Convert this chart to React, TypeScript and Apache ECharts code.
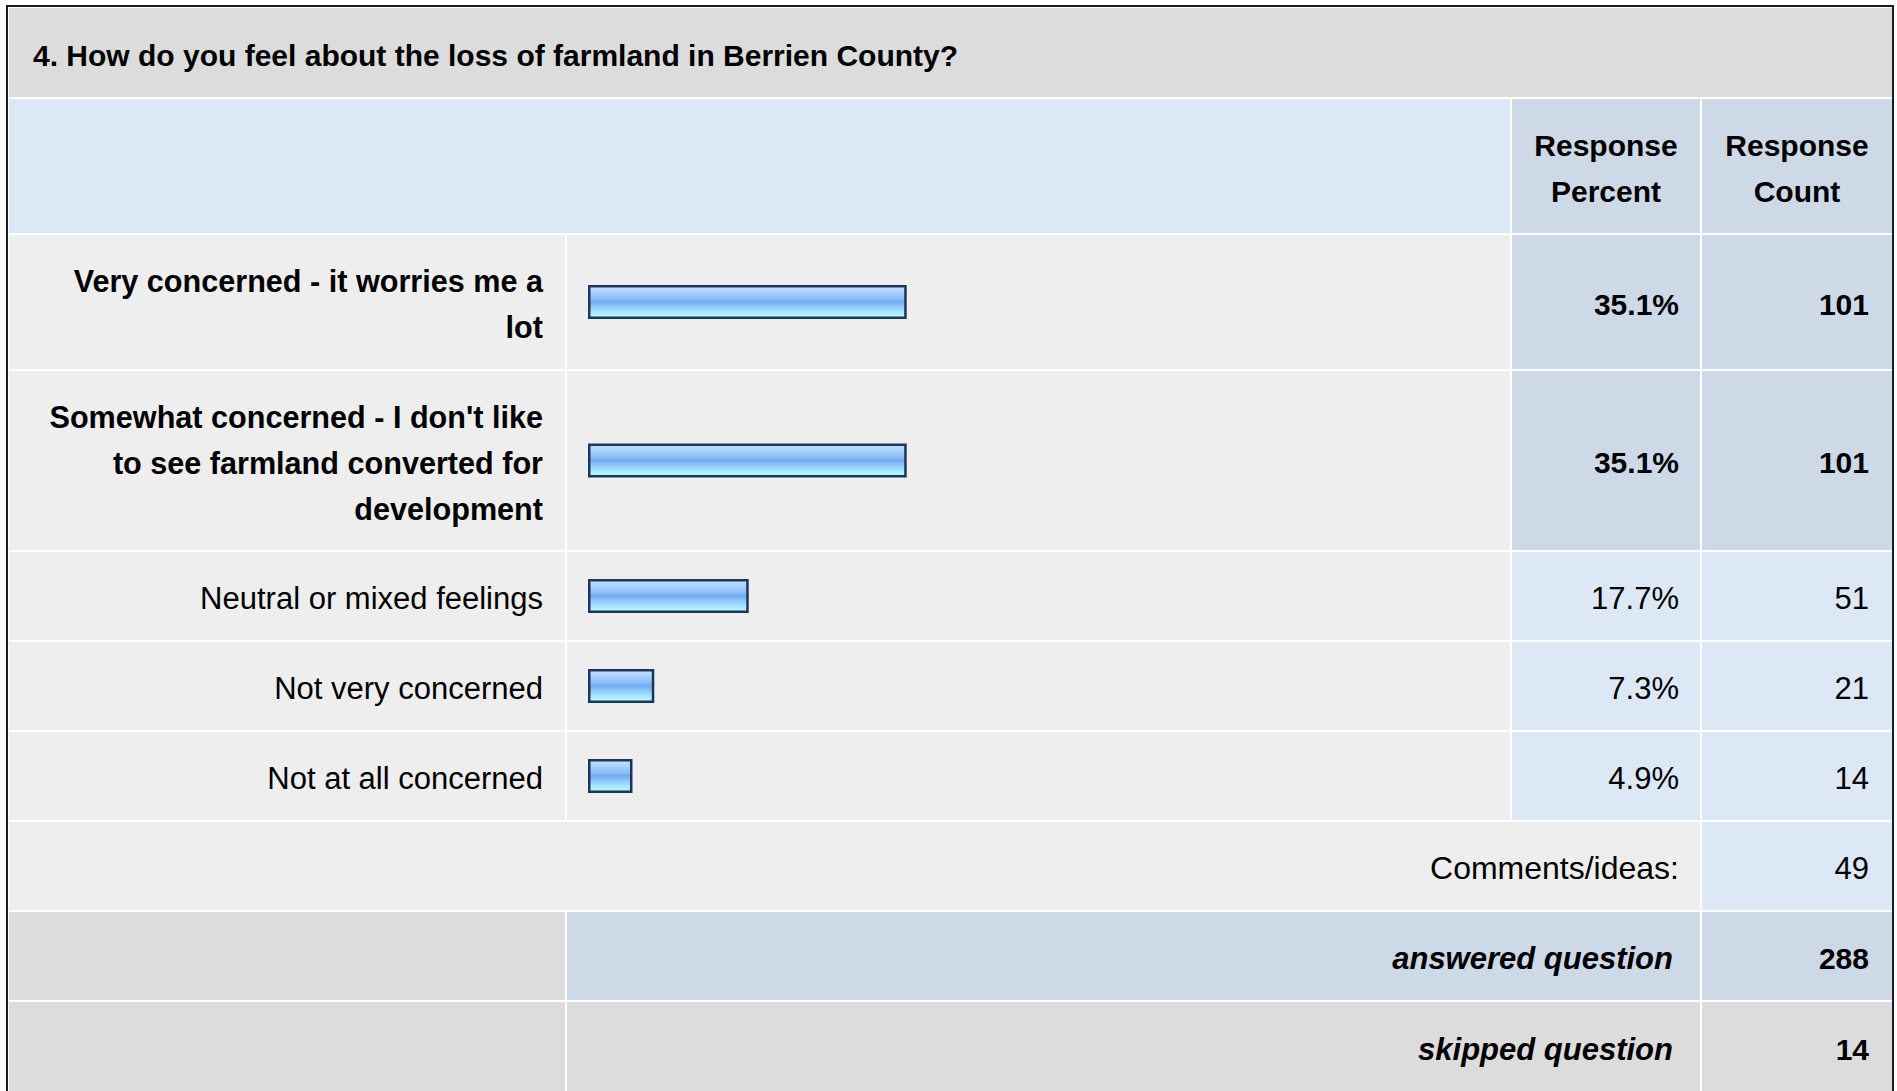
import React, { useEffect, useRef } from "react";
import * as echarts from "echarts";

// ---------- data ----------
const questionTitle = "4. How do you feel about the loss of farmland in Berrien County?";
const answerChoices = [
  "Very concerned - it worries me a lot",
  "Somewhat concerned - I don't like to see farmland converted for development",
  "Neutral or mixed feelings",
  "Not very concerned",
  "Not at all concerned",
];
const responsePercent = [35.1, 35.1, 17.7, 7.3, 4.9];
const responseCount = [101, 101, 51, 21, 14];
const headerLabels = ["Response\nPercent", "Response\nCount"];
const commentsLabel = "Comments/ideas:";
const commentsCount = 49;
const answeredLabel = "answered question";
const answeredCount = 288;
const skippedLabel = "skipped question";
const skippedCount = 14;

// ---------- layout ----------
const W = 1897;
const H = 1091;
const COL = { l0: 9, l1: 565, b0: 567, b1: 1510, p0: 1512, p1: 1700, c0: 1702, c1: 1892 };
const TITLE_ROW = [8, 97];
const HEADER_ROW = [99, 233];
const CHOICE_ROWS = [
  [235, 369],
  [371, 550],
  [552, 640],
  [642, 730],
  [732, 820],
];
const COMMENTS_ROW = [822, 910];
const ANSWERED_ROW = [912, 1000];
const SKIPPED_ROW = [1002, 1092];
const BAR_LEFT = 588;
const BAR_FULL = 908;

const C_TITLE = "#dcdcdc";
const C_HEAD = "#dce8f5";
const C_DARK = "#cdd9e6";
const C_LIGHT = "#eeeeee";
const C_GRAY = "#dcdcdc";
const FONT = '"Liberation Sans", Arial, Helvetica, sans-serif';

function rect(x0: number, x1: number, r: number[], fill: string) {
  return {
    type: "rect",
    shape: { x: x0, y: r[0], width: x1 - x0, height: r[1] - r[0] },
    style: { fill },
    silent: true,
  };
}

let measureCtx: CanvasRenderingContext2D | null = null;
function wrapText(str: string, font: string, maxWidth: number) {
  if (!measureCtx) measureCtx = document.createElement("canvas").getContext("2d");
  const ctx = measureCtx!;
  ctx.font = font;
  const words = str.split(" ");
  const lines: string[] = [];
  let cur = "";
  for (const w of words) {
    const trial = cur ? cur + " " + w : w;
    if (cur && ctx.measureText(trial).width > maxWidth) {
      lines.push(cur);
      cur = w;
    } else {
      cur = trial;
    }
  }
  if (cur) lines.push(cur);
  return lines.join("\n");
}

function text(
  str: string,
  x: number,
  y: number,
  align: string,
  opts: { bold?: boolean; italic?: boolean; size?: number; lineHeight?: number } = {}
) {
  const style: any = {
    text: str,
    fill: "#000",
    fontFamily: FONT,
    fontSize: opts.size ?? 30,
    fontWeight: opts.bold ? "bold" : "normal",
    fontStyle: opts.italic ? "italic" : "normal",
    align,
    textAlign: align,
    verticalAlign: "middle",
    textVerticalAlign: "middle",
    lineHeight: opts.lineHeight ?? 46,
  };
  return { type: "text", x, y, style, silent: true };
}

const mid = (r: number[]) => (r[0] + r[1]) / 2 + 2;

export default function App() {
  const ref = useRef<HTMLDivElement>(null);

  useEffect(() => {
    if (!ref.current) return;
    const chart = echarts.init(ref.current, undefined, { renderer: "svg", width: W, height: H });
    const maxPct = Math.max(...responsePercent);

    const graphics: any[] = [];
    graphics.push({
      type: "rect",
      shape: { x: 7, y: 6, width: 1886, height: 1100 },
      style: { fill: "#ffffff", stroke: "#1c1c1c", lineWidth: 2 },
      silent: true,
    });
    graphics.push(rect(COL.l0, COL.c1, TITLE_ROW, C_TITLE));
    graphics.push(rect(COL.l0, COL.b1, HEADER_ROW, C_HEAD));
    graphics.push(rect(COL.p0, COL.p1, HEADER_ROW, C_DARK));
    graphics.push(rect(COL.c0, COL.c1, HEADER_ROW, C_DARK));
    CHOICE_ROWS.forEach((r, i) => {
      const top = responsePercent[i] === maxPct;
      graphics.push(rect(COL.l0, COL.l1, r, C_LIGHT));
      graphics.push(rect(COL.b0, COL.b1, r, C_LIGHT));
      graphics.push(rect(COL.p0, COL.p1, r, top ? C_DARK : C_HEAD));
      graphics.push(rect(COL.c0, COL.c1, r, top ? C_DARK : C_HEAD));
    });
    graphics.push(rect(COL.l0, COL.p1, COMMENTS_ROW, C_LIGHT));
    graphics.push(rect(COL.c0, COL.c1, COMMENTS_ROW, C_HEAD));
    graphics.push(rect(COL.l0, COL.l1, ANSWERED_ROW, C_GRAY));
    graphics.push(rect(COL.b0, COL.p1, ANSWERED_ROW, C_DARK));
    graphics.push(rect(COL.c0, COL.c1, ANSWERED_ROW, C_DARK));
    graphics.push(rect(COL.l0, COL.l1, SKIPPED_ROW, C_GRAY));
    graphics.push(rect(COL.b0, COL.p1, SKIPPED_ROW, C_GRAY));
    graphics.push(rect(COL.c0, COL.c1, SKIPPED_ROW, C_GRAY));

    graphics.push(text(questionTitle, 33, 55, "left", { bold: true }));
    graphics.push(text(headerLabels[0], (COL.p0 + COL.p1) / 2, 168, "center", { bold: true }));
    graphics.push(text(headerLabels[1], (COL.c0 + COL.c1) / 2, 168, "center", { bold: true }));
    CHOICE_ROWS.forEach((r, i) => {
      const top = responsePercent[i] === maxPct;
      const labelSize = top ? 30.6 : 31;
      const font = `${top ? "bold " : ""}${labelSize}px ${FONT}`;
      graphics.push(
        text(wrapText(answerChoices[i], font, 505), 543, mid(r), "right", {
          bold: top,
          size: labelSize,
          lineHeight: 46,
        })
      );
      const valSize = top ? 30 : 31;
      graphics.push(text(responsePercent[i].toFixed(1) + "%", 1679, mid(r), "right", { bold: top, size: valSize }));
      graphics.push(text(String(responseCount[i]), 1869, mid(r), "right", { bold: top, size: valSize }));
    });
    graphics.push(text(commentsLabel, 1679, mid(COMMENTS_ROW), "right", { size: 32 }));
    graphics.push(text(String(commentsCount), 1869, mid(COMMENTS_ROW), "right", { size: 31 }));
    graphics.push(text(answeredLabel, 1673, mid(ANSWERED_ROW), "right", { bold: true, italic: true, size: 31 }));
    graphics.push(text(String(answeredCount), 1869, mid(ANSWERED_ROW), "right", { bold: true }));
    graphics.push(text(skippedLabel, 1673, mid(SKIPPED_ROW), "right", { bold: true, italic: true, size: 31 }));
    graphics.push(text(String(skippedCount), 1869, mid(SKIPPED_ROW), "right", { bold: true }));

    const barGradient = new echarts.graphic.LinearGradient(0, 0, 0, 1, [
      { offset: 0, color: "#c4e2ff" },
      { offset: 0.18, color: "#a9d3ff" },
      { offset: 0.38, color: "#8cc0f8" },
      { offset: 0.5, color: "#72aaee" },
      { offset: 0.62, color: "#8ac2f8" },
      { offset: 0.82, color: "#a8e6ff" },
      { offset: 1, color: "#b8fcff" },
    ]);

    const grids = CHOICE_ROWS.map((r) => ({
      left: BAR_LEFT,
      top: r[0],
      width: BAR_FULL,
      height: r[1] - r[0],
      containLabel: false,
      outerBoundsMode: "none",
    }));
    const xAxes = CHOICE_ROWS.map((_, i) => ({
      type: "value",
      gridIndex: i,
      min: 0,
      max: 100,
      show: false,
    }));
    const yAxes = CHOICE_ROWS.map((_, i) => ({
      type: "category",
      gridIndex: i,
      data: [answerChoices[i]],
      show: false,
    }));
    const series = CHOICE_ROWS.map((_, i) => ({
      type: "bar",
      xAxisIndex: i,
      yAxisIndex: i,
      data: [responsePercent[i]],
      barWidth: 34,
      silent: true,
      itemStyle: { color: barGradient, borderColor: "#1f3559", borderWidth: 2.5 },
      z: 5,
    }));

    chart.setOption({
      animation: false,
      backgroundColor: "#ffffff",
      graphic: { elements: graphics },
      grid: grids,
      xAxis: xAxes,
      yAxis: yAxes,
      series,
    });
    return () => chart.dispose();
  }, []);

  return (
    <div
      ref={ref}
      style={{ position: "fixed", left: 0, top: 0, width: W, height: H, background: "#fff" }}
    />
  );
}
